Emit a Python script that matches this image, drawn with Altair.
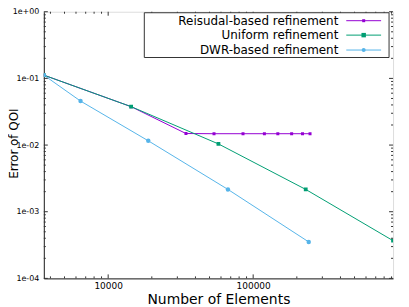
import altair as alt
import pandas as pd

# ---- data ----
series_names = ["Reisudal-based refinement", "Uniform refinement", "DWR-based refinement"]
series_colors = ["#9400d3", "#009e73", "#56b4e9"]
series_shapes = ["square", "square", "circle"]
series_sizes = [9, 20, 16]

N_resid = [3600, 14400, 34400, 53700, 85100, 119500, 147900, 184200, 218900, 246700]
E_resid = [0.112, 0.0377, 0.0149, 0.0148, 0.0148, 0.0148, 0.0148, 0.0148, 0.0148, 0.0148]

N_uniform = [3600, 14400, 57600, 230400, 921600]
E_uniform = [0.112, 0.0377, 0.0104, 0.00216, 0.000368]

N_dwr = [3600, 6450, 18900, 67000, 241600]
E_dwr = [0.112, 0.0457, 0.0116, 0.00216, 0.000352]

x_major = [10000, 100000]
y_major = [1e-4, 1e-3, 1e-2, 1e-1, 1.0]
x_minor = [4000, 5000, 6000, 7000, 8000, 9000,
           20000, 30000, 40000, 50000, 60000, 70000, 80000, 90000,
           200000, 300000, 400000, 500000, 600000, 700000, 800000, 900000]
y_minor = [m * 10.0 ** e for e in (-4, -3, -2, -1) for m in (2, 3, 4, 5, 6, 7, 8, 9)]

W, H = 351, 268
FONT = "DejaVu Sans"

rows = []
for name, Ns, Es in [(series_names[0], N_resid, E_resid),
                     (series_names[1], N_uniform, E_uniform),
                     (series_names[2], N_dwr, E_dwr)]:
    for i, (n, e) in enumerate(zip(Ns, Es)):
        rows.append({"series": name, "N": n, "err": e, "order": i})
df = pd.DataFrame(rows)

xscale = alt.Scale(type="log", domain=[3600, 921600], nice=False, zero=False)
yscale = alt.Scale(type="log", domain=[1e-4, 1.0], nice=False, zero=False)
color_scale = alt.Scale(domain=series_names, range=series_colors)
shape_scale = alt.Scale(domain=series_names, range=series_shapes)
size_scale = alt.Scale(domain=series_names, range=series_sizes)

ylabel_expr = ("'1e' + (round(log(datum.value)/LN10) < 0 ? '-' : '+') + "
               "(abs(round(log(datum.value)/LN10)) < 10 ? '0' : '') + abs(round(log(datum.value)/LN10))")

x_enc = alt.X("N:Q", scale=xscale,
              axis=alt.Axis(values=x_major, format="d", ticks=False, tickSize=0, grid=False,
                            labelFontSize=9, labelPadding=3, labelFont=FONT, labelColor="#000",
                            title="Number of Elements", titleFontSize=14, titleFont=FONT,
                            titleFontWeight="normal", titleColor="#000", titlePadding=2,
                            domainColor="#222", labelFlush=False))
y_enc = alt.Y("err:Q", scale=yscale,
              axis=alt.Axis(values=y_major, labelExpr=ylabel_expr, ticks=False, tickSize=0, grid=False,
                            labelFontSize=8, labelPadding=5, labelFont=FONT, labelColor="#000",
                            title="Error of QOI", titleFontSize=12, titleFont=FONT,
                            titleFontWeight="normal", titleColor="#000",
                            titleX=-35, titleY=132, titleAngle=270, titleAlign="center",
                            titleBaseline="top",
                            domainColor="#222", labelFlush=False))

base = alt.Chart(df)
lines = base.mark_line(strokeWidth=1, clip=True).encode(
    x=x_enc, y=y_enc,
    color=alt.Color("series:N", scale=color_scale, legend=None),
    order="order:Q",
    detail="series:N",
)
points = base.mark_point(filled=True, opacity=1, clip=True).encode(
    x="N:Q", y="err:Q",
    color=alt.Color("series:N", scale=color_scale, legend=None),
    shape=alt.Shape("series:N", scale=shape_scale, legend=None),
    size=alt.Size("series:N", scale=size_scale, legend=None),
)

# inward ticks on all four sides (mirror ticks)
TICK_COLOR = "#333"
def yticks(vals, length):
    d = pd.DataFrame({"err": vals})
    left = alt.Chart(d).mark_rule(color=TICK_COLOR, strokeWidth=1).encode(
        y="err:Q", x=alt.value(0), x2=alt.value(length))
    right = alt.Chart(d).mark_rule(color=TICK_COLOR, strokeWidth=1).encode(
        y="err:Q", x=alt.value(W - length), x2=alt.value(W))
    return [left, right]

def xticks(vals, length):
    d = pd.DataFrame({"N": vals})
    bottom = alt.Chart(d).mark_rule(color=TICK_COLOR, strokeWidth=1).encode(
        x="N:Q", y=alt.value(H), y2=alt.value(H - length))
    top = alt.Chart(d).mark_rule(color=TICK_COLOR, strokeWidth=1).encode(
        x="N:Q", y=alt.value(0), y2=alt.value(length))
    return [bottom, top]

tick_layers = yticks(y_major, 4) + yticks(y_minor, 2) + xticks(x_major, 4) + xticks(x_minor, 2)

# legend (gnuplot style: label left, sample right), inside top-right
one = pd.DataFrame({"k": [0]})
legend_layers = [
    alt.Chart(one).mark_rect(fill="white", stroke="#333", strokeWidth=1).encode(
        x=alt.value(101), x2=alt.value(347), y=alt.value(1), y2=alt.value(46))
]
row_y = [9, 23.5, 38.5]
for name, col, shp, sz, yy in zip(series_names, series_colors, series_shapes, series_sizes, row_y):
    d = pd.DataFrame({"label": [name]})
    legend_layers.append(alt.Chart(d).mark_text(align="right", baseline="middle", font=FONT,
                                                 fontSize=12, color="#000").encode(
        text="label:N", x=alt.value(296), y=alt.value(yy)))
    legend_layers.append(alt.Chart(d).mark_rule(color=col, strokeWidth=1).encode(
        x=alt.value(304), x2=alt.value(339), y=alt.value(yy)))
    legend_layers.append(alt.Chart(d).mark_point(shape=shp, size=sz, filled=True, opacity=1,
                                                  color=col).encode(
        x=alt.value(321.5), y=alt.value(yy)))

chart = alt.layer(lines, points, *tick_layers, *legend_layers).properties(
    width=W, height=H,
    autosize=alt.AutoSizeParams(type="none"),
    padding={"left": 36, "top": 3, "right": 8, "bottom": 28},
).configure_view(stroke="#777", strokeWidth=1).configure(background="white")

chart.save("out.html", embed_options={"renderer": "svg", "actions": False})
